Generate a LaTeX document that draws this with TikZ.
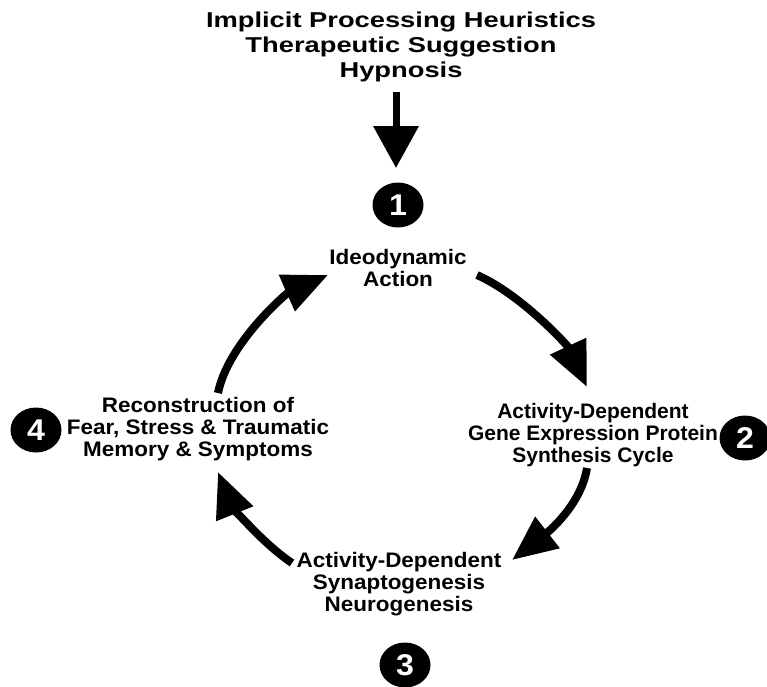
\documentclass[tikz,border=0pt]{standalone}
\usepackage{fontspec}
\setmainfont{Liberation Sans}
\newfontfamily\headfont[FakeStretch=1.27]{Liberation Sans}
\newfontfamily\labelfont[FakeStretch=1.07]{Liberation Sans}
\usepackage{tikz}
\usetikzlibrary{arrows.meta, shapes.geometric}

\begin{document}
\begin{tikzpicture}[x=1pt, y=-1pt,
  numdot/.style={ellipse, fill=black, text=white, minimum width=51pt, minimum height=45pt, inner sep=0pt, font=\labelfont\bfseries\fontsize{30}{30}\selectfont},
  caption/.style={align=center, inner sep=0pt, font=\labelfont\bfseries\fontsize{21}{22}\selectfont},
  cyclearrow/.style={line width=8pt, -{Triangle[length=45pt, width=38pt]}}]
  \useasboundingbox (0,0) rectangle (767,686);
  % heading and the arrow into step 1
  \node[align=center, inner sep=0pt, font=\headfont\bfseries\fontsize{21.5}{25}\selectfont] (heading) at (401,47)
    {Implicit Processing Heuristics\\Therapeutic Suggestion\\Hypnosis};
  \coordinate (headfoot) at (396,92);
  \coordinate (headtip) at (396,168);
  \draw[line width=7pt, -{Triangle[length=42pt, width=44pt]}] (headfoot) -- (headtip);
  % numbered steps
  \node[numdot] (one) at (398,205) {1};
  \node[numdot] (two) at (745,438) {2};
  \node[numdot] (three) at (405,665) {3};
  \node[numdot] (four) at (36,430) {4};
  \node[caption] (ideo) at (398,268) {Ideodynamic\\Action};
  \node[caption, font=\bfseries\fontsize{21}{22}\selectfont] (gene) at (593,435) {Activity-Dependent\\Gene Expression Protein\\Synthesis Cycle};
  \node[caption] (synapse) at (399,584) {Activity-Dependent\\Synaptogenesis\\Neurogenesis};
  \node[caption] (fear) at (198,429) {Reconstruction of\\Fear, Stress \& Traumatic\\Memory \& Symptoms};
  % ends of the cycle arrows
  \coordinate (a1) at (477,275); \coordinate (b1) at (587,387);
  \coordinate (a2) at (587,468); \coordinate (b2) at (512,560);
  \coordinate (a3) at (292,563); \coordinate (b3) at (218,472);
  \coordinate (a4) at (218,393); \coordinate (b4) at (328,275);
  \draw[cyclearrow] (a1) .. controls (522,295) and (568,346) .. (b1);
  \draw[cyclearrow] (a2) .. controls (581,505) and (548,532) .. (b2);
  \draw[cyclearrow] (a3) .. controls (258,540) and (230,502) .. (b3);
  \draw[cyclearrow] (a4) .. controls (228,343) and (287,293) .. (b4);
\end{tikzpicture}
\end{document}
